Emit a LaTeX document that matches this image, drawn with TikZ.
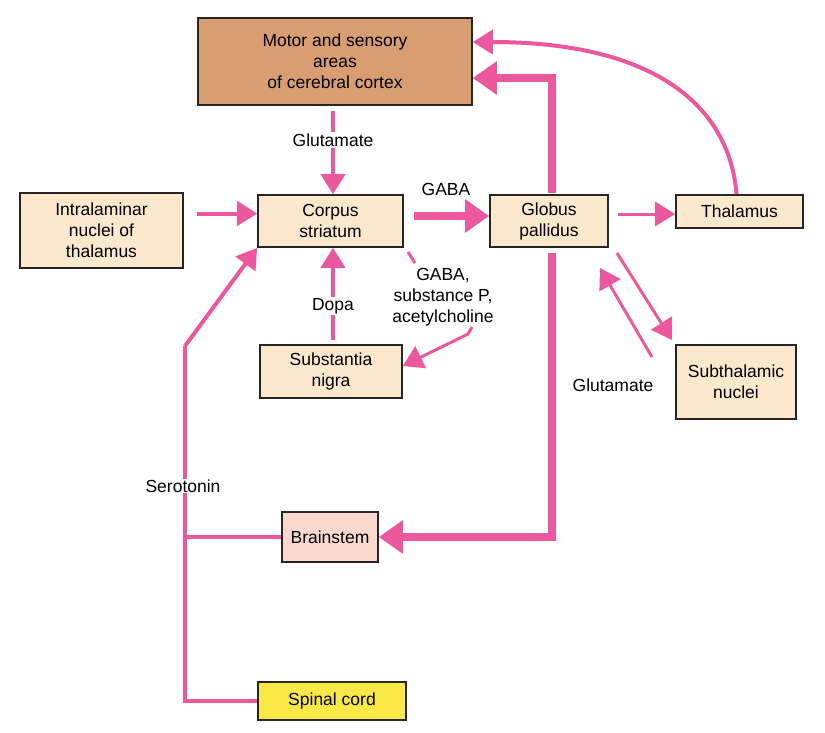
\documentclass[tikz,border=0pt]{standalone}
\usepackage{fontspec}
\setmainfont{Liberation Sans}
\usetikzlibrary{arrows.meta}
\definecolor{pathpink}{RGB}{236,88,158}
\definecolor{cortexfill}{RGB}{216,157,112}
\definecolor{nucfill}{RGB}{252,232,204}
\definecolor{stemfill}{RGB}{250,216,205}
\definecolor{cordfill}{RGB}{250,232,70}
\tikzset{
    box/.style={draw=black!85, line width=1.6pt, fill=nucfill, align=center,
                inner sep=0pt, font=\fontsize{17.5}{21}\selectfont},
    lbl/.style={align=center, font=\fontsize{17.5}{21}\selectfont, inner sep=1pt},
    fibre/.style={draw=pathpink, line width=4pt,
                  -{Triangle[length=20pt,width=24pt]}},
    tract/.style={draw=pathpink, line width=8pt,
                  -{Triangle[length=24pt,width=32pt]}},
    plain/.style={draw=pathpink, line width=4pt}
}
\begin{document}
\begin{tikzpicture}[x=1pt,y=-1pt]
  \useasboundingbox (0,0) rectangle (825,732);

  % nuclei
  \node[box, fill=cortexfill, minimum width=274pt, minimum height=87pt] (cortex) at (335,61.5)
     {Motor and sensory\\areas\\of cerebral cortex};
  \node[box, minimum width=145pt, minimum height=52pt] (striatum) at (330.5,221) {Corpus\\striatum};
  \node[box, minimum width=118pt, minimum height=52pt] (pallidus) at (549,221) {Globus\\pallidus};
  \node[box, minimum width=127pt, minimum height=33pt] (thalamus) at (739.5,211.5) {Thalamus};
  \node[box, minimum width=163pt, minimum height=75pt] (intra) at (101.5,230.5) {Intralaminar\\nuclei of\\thalamus};
  \node[box, minimum width=142pt, minimum height=53pt] (nigra) at (331,371.5) {Substantia\\nigra};
  \node[box, minimum width=120pt, minimum height=74pt] (subthal) at (736,382) {Subthalamic\\nuclei};
  \node[box, fill=stemfill, minimum width=96pt, minimum height=50pt] (stem) at (330,537) {Brainstem};
  \node[box, fill=cordfill, minimum width=148pt, minimum height=38pt] (cord) at (332,701) {Spinal cord};

  % labels
  \node[lbl] (glu1) at (333,140) {Glutamate};
  \node[lbl] (gaba1) at (446,189) {GABA};
  \node[lbl] (dopa) at (333,306) {Dopa};
  \node[lbl] (gabasp) at (443,297) {GABA,\\substance P,\\acetylcholine};
  \node[lbl] (glu2) at (613,385) {Glutamate};

  % connectors
  \draw[plain] (333,111) -- (glu1.north);
  \draw[fibre] (glu1.south) -- (glu1.south |- striatum.north);
  \draw[fibre] (intra.east) ++(13,-17) coordinate (i0) -- (striatum.west |- i0);
  \draw[tract] (striatum.east) ++(10,-5) coordinate (s0) -- (pallidus.west |- s0);
  \coordinate (p0) at (552,193);
  \draw[tract] (p0) -- (552,78) -- (cortex.east |- 0,78);
  \draw[fibre] (thalamus.north) ++(-3,0) coordinate (t0)
     .. controls (730,110) and (660,42) .. (cortex.east |- 0,42);
  \draw[fibre, line width=3pt] (pallidus.east) ++(9,-7) coordinate (p1) -- (thalamus.west |- p1);
  \draw[plain] (333,340) -- (dopa.south);
  \draw[fibre] (dopa.north) -- (dopa.north |- striatum.south);
  \draw[plain, line width=3pt] (408,252) -- (415,263);
  \draw[fibre, line width=3pt] (472,327) -- (468,334) -- (nigra.east |- 0,366);
  \draw[fibre, line width=3pt] (617,253) -- (672,340);
  \draw[fibre, line width=3pt] (652,357) -- (600,268);
  \coordinate (p2) at (552,253);
  \draw[tract] (p2) -- (552,537) -- (stem.east);
  \coordinate (sp) at (185,701);
  \draw[plain] (cord.west) -- (sp) -- (185,346);
  \draw[fibre] (185,346) -- (striatum.south west);
  \draw[plain] (stem.west) -- (185,537);
  \node[lbl, fill=white] (sero) at (183,486) {Serotonin};
\end{tikzpicture}
\end{document}
